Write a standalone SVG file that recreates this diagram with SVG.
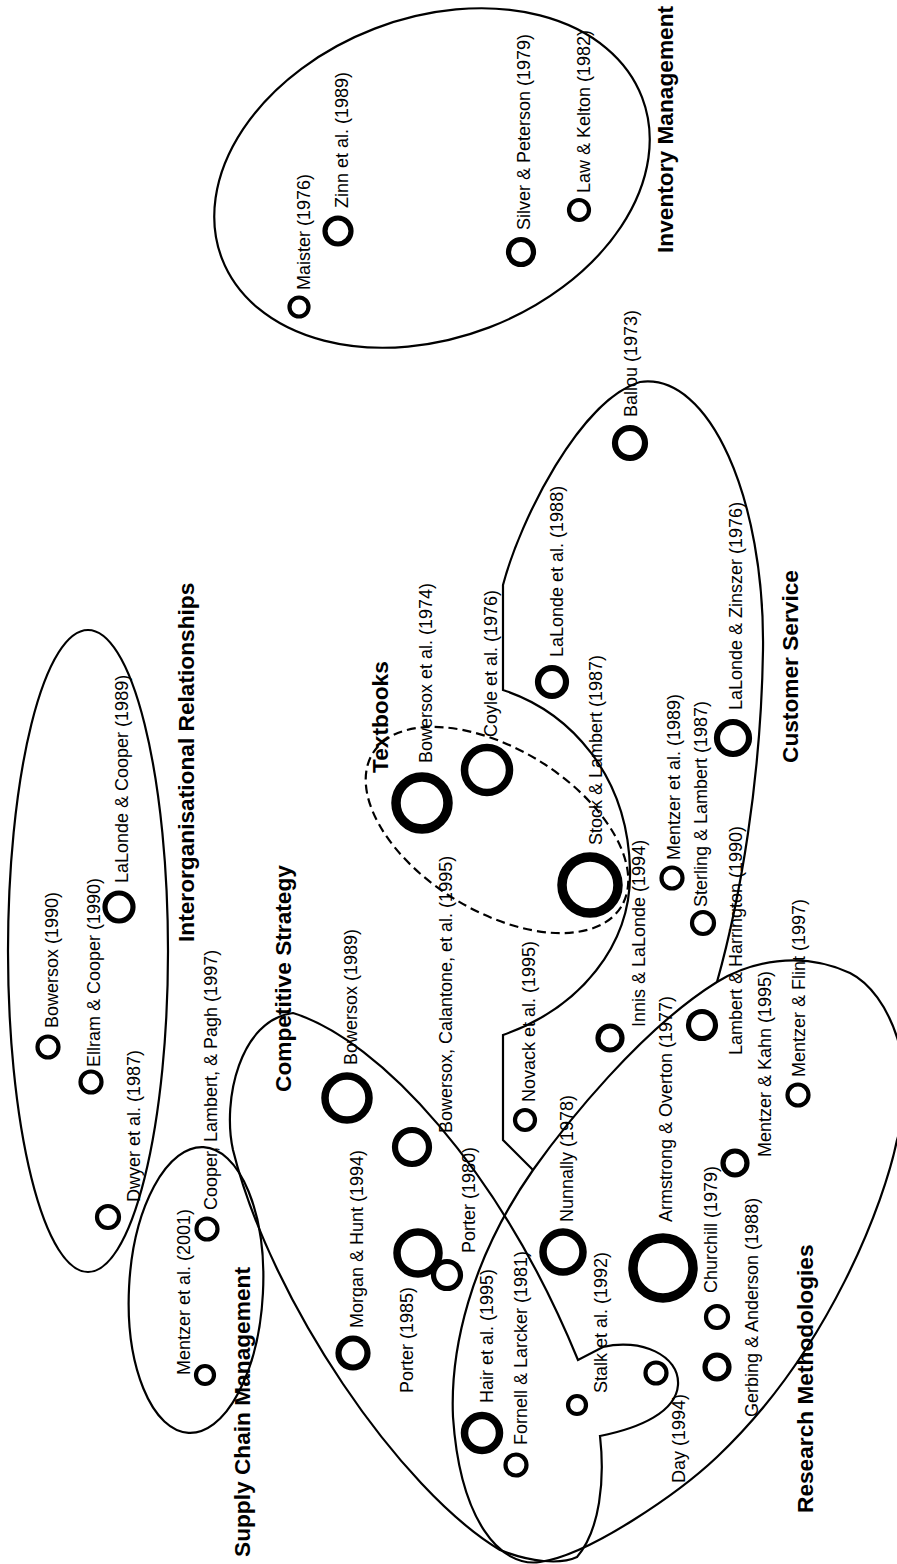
<svg xmlns="http://www.w3.org/2000/svg" width="897" height="1564" viewBox="0 0 897 1564">
<style>
  .outline{fill:none;stroke:#000;stroke-width:2.2}
  .dashed{fill:none;stroke:#000;stroke-width:2.2;stroke-dasharray:9 5}
  circle{fill:none;stroke:#000}
  .w1{stroke-width:4.2}
  .w2{stroke-width:5.2}
  .w3{stroke-width:6.2}
  .w4{stroke-width:7.5}
  .w5{stroke-width:9.5}
  text{font-family:"Liberation Sans",Arial,Helvetica,sans-serif;fill:#000}
  .lbl{font-size:18px}
  .title{font-size:22.7px;font-weight:bold}
</style>
<rect width="897" height="1564" fill="#fff"/>

<!-- cluster outlines -->
<g id="cluster-outlines">
  <ellipse id="inventory-outline" class="outline" cx="432" cy="178" rx="225" ry="160" transform="rotate(-21 432 178)"/>
  <ellipse id="interorg-outline" class="outline" cx="88" cy="951" rx="80" ry="321"/>
  <ellipse id="scm-outline" class="outline" cx="196" cy="1290" rx="67" ry="143" transform="rotate(3 196 1290)"/>
  <ellipse id="textbooks-outline" class="dashed" cx="497" cy="830" rx="146" ry="81" transform="rotate(31.7 497 830)"/>
  <path id="customer-service-outline" class="outline" d="M533,1170 L503,1140 L503,1035 C580,1008 632,945 630,870 C628,775 570,712 503,690 L503,585 C520,520 580,400 640,382 C710,372 765,500 763,650 C761,780 740,900 717,982"/>
  <path id="research-outline" class="outline" d="M717,982 C750,962 800,950 850,973 C890,993 920,1070 897,1140 C885,1200 830,1350 717,1457 C680,1492 590,1555 540,1562 C500,1568 460,1520 453,1417 C450,1350 470,1260 533,1170 C565,1125 640,1030 717,982 Z"/>
  <path id="competitive-outline" class="outline" d="M293,1013 C380,1040 500,1170 578,1360 L603,1347 C640,1338 680,1355 678,1385 C676,1412 640,1428 600,1436 C605,1480 600,1530 577,1557 C560,1565 530,1562 500,1550 C400,1490 270,1300 233,1150 C222,1100 240,1020 293,1013 Z"/>
</g>

<!-- cluster titles -->
<g id="cluster-titles">
  <text class="title" transform="translate(673,253) rotate(-90)">Inventory Management</text>
  <text class="title" transform="translate(798,763) rotate(-90)">Customer Service</text>
  <text class="title" transform="translate(388,773) rotate(-90)">Textbooks</text>
  <text class="title" transform="translate(194,942) rotate(-90)">Interorganisational Relationships</text>
  <text class="title" transform="translate(250,1557) rotate(-90)">Supply Chain Management</text>
  <text class="title" transform="translate(291,1092) rotate(-90)">Competitive Strategy</text>
  <text class="title" transform="translate(813,1513) rotate(-90)">Research Methodologies</text>
</g>

<!-- Inventory Management -->
<g id="maister-1976"><circle class="w1" cx="299" cy="307" r="9.5"/><text class="lbl" transform="translate(310,290) rotate(-90)">Maister (1976)</text></g>
<g id="zinn-1989"><circle class="w2" cx="338" cy="231" r="13"/><text class="lbl" transform="translate(348,208) rotate(-90)">Zinn et al. (1989)</text></g>
<g id="silver-peterson-1979"><circle class="w2" cx="521" cy="252" r="12.5"/><text class="lbl" transform="translate(530,230) rotate(-90)">Silver &amp; Peterson (1979)</text></g>
<g id="law-kelton-1982"><circle class="w1" cx="579" cy="210" r="10"/><text class="lbl" transform="translate(590,193) rotate(-90)">Law &amp; Kelton (1982)</text></g>

<!-- Customer Service -->
<g id="ballou-1973"><circle class="w3" cx="630" cy="443" r="15"/><text class="lbl" transform="translate(637,417) rotate(-90)">Ballou (1973)</text></g>
<g id="lalonde-1988"><circle class="w3" cx="552" cy="682" r="14"/><text class="lbl" transform="translate(563,657) rotate(-90)">LaLonde et al. (1988)</text></g>
<g id="lalonde-zinszer-1976"><circle class="w3" cx="733" cy="738" r="16"/><text class="lbl" transform="translate(742,710) rotate(-90)">LaLonde &amp; Zinszer (1976)</text></g>
<g id="mentzer-1989"><circle class="w1" cx="672" cy="878" r="10.5"/><text class="lbl" transform="translate(680,860) rotate(-90)">Mentzer et al. (1989)</text></g>
<g id="sterling-lambert-1987"><circle class="w1" cx="703" cy="923" r="11"/><text class="lbl" transform="translate(707,907) rotate(-90)">Sterling &amp; Lambert (1987)</text></g>
<g id="lambert-harrington-1990"><circle class="w2" cx="702" cy="1025" r="13.5"/><text class="lbl" transform="translate(742,1055) rotate(-90)">Lambert &amp; Harrington (1990)</text></g>
<g id="innis-lalonde-1994"><circle class="w2" cx="610" cy="1038" r="12"/><text class="lbl" transform="translate(645,1027) rotate(-90)">Innis &amp; LaLonde (1994)</text></g>
<g id="novack-1995"><circle class="w1" cx="525" cy="1120" r="10"/><text class="lbl" transform="translate(535,1102) rotate(-90)">Novack et al. (1995)</text></g>
<g id="stock-lambert-1987"><circle class="w5" cx="590" cy="885" r="28"/><text class="lbl" transform="translate(602,845) rotate(-90)">Stock &amp; Lambert (1987)</text></g>

<!-- Textbooks -->
<g id="bowersox-1974"><circle class="w5" cx="422" cy="803" r="26"/><text class="lbl" transform="translate(432,763) rotate(-90)">Bowersox et al. (1974)</text></g>
<g id="coyle-1976"><circle class="w4" cx="487" cy="770" r="22.5"/><text class="lbl" transform="translate(497,737) rotate(-90)">Coyle et al. (1976)</text></g>

<!-- Interorganisational Relationships -->
<g id="dwyer-1987"><circle class="w1" cx="108" cy="1217" r="11"/><text class="lbl" transform="translate(140,1202) rotate(-90)">Dwyer et al. (1987)</text></g>
<g id="bowersox-1990"><circle class="w1" cx="48" cy="1047" r="10.5"/><text class="lbl" transform="translate(58,1028) rotate(-90)">Bowersox (1990)</text></g>
<g id="ellram-cooper-1990"><circle class="w1" cx="91" cy="1082" r="10.5"/><text class="lbl" transform="translate(100,1067) rotate(-90)">Ellram &amp; Cooper (1990)</text></g>
<g id="lalonde-cooper-1989"><circle class="w2" cx="119" cy="907" r="14"/><text class="lbl" transform="translate(128,883) rotate(-90)">LaLonde &amp; Cooper (1989)</text></g>

<!-- Supply Chain Management -->
<g id="mentzer-2001"><circle class="w1" cx="205" cy="1375" r="9"/><text class="lbl" transform="translate(190,1375) rotate(-90)">Mentzer et al. (2001)</text></g>
<g id="cooper-lambert-pagh-1997"><circle class="w1" cx="207" cy="1229" r="10.5"/><text class="lbl" transform="translate(217,1210) rotate(-90)">Cooper, Lambert, &amp; Pagh (1997)</text></g>

<!-- Competitive Strategy -->
<g id="morgan-hunt-1994"><circle class="w3" cx="353" cy="1353" r="14.5"/><text class="lbl" transform="translate(363,1328) rotate(-90)">Morgan &amp; Hunt (1994)</text></g>
<g id="porter-1985"><circle class="w4" cx="418" cy="1253" r="21"/><text class="lbl" transform="translate(413,1393) rotate(-90)">Porter (1985)</text></g>
<g id="porter-1980"><circle class="w2" cx="447" cy="1275" r="13.5"/><text class="lbl" transform="translate(475,1253) rotate(-90)">Porter (1980)</text></g>
<g id="bowersox-1989"><circle class="w4" cx="347" cy="1098" r="22"/><text class="lbl" transform="translate(357,1065) rotate(-90)">Bowersox (1989)</text></g>
<g id="bowersox-calantone-1995"><circle class="w3" cx="412" cy="1147" r="17"/><text class="lbl" transform="translate(452,1133) rotate(-90)">Bowersox, Calantone, et al. (1995)</text></g>
<g id="hair-1995"><circle class="w4" cx="482" cy="1433" r="17.5"/><text class="lbl" transform="translate(493,1403) rotate(-90)">Hair et al. (1995)</text></g>
<g id="fornell-larcker-1981"><circle class="w1" cx="516" cy="1465" r="10.5"/><text class="lbl" transform="translate(527,1445) rotate(-90)">Fornell &amp; Larcker (1981)</text></g>
<g id="stalk-1992"><circle class="w1" cx="577" cy="1405" r="9"/><text class="lbl" transform="translate(607,1393) rotate(-90)">Stalk et al. (1992)</text></g>
<g id="day-1994"><circle class="w1" cx="656" cy="1373" r="10.5"/><text class="lbl" transform="translate(685,1483) rotate(-90)">Day (1994)</text></g>

<!-- Research Methodologies -->
<g id="nunnally-1978"><circle class="w4" cx="563" cy="1252" r="20"/><text class="lbl" transform="translate(573,1222) rotate(-90)">Nunnally (1978)</text></g>
<g id="armstrong-overton-1977"><circle class="w5" cx="663" cy="1268" r="30"/><text class="lbl" transform="translate(672,1222) rotate(-90)">Armstrong &amp; Overton (1977)</text></g>
<g id="churchill-1979"><circle class="w1" cx="717" cy="1317" r="11"/><text class="lbl" transform="translate(717,1293) rotate(-90)">Churchill (1979)</text></g>
<g id="gerbing-anderson-1988"><circle class="w2" cx="717" cy="1367" r="12"/><text class="lbl" transform="translate(758,1417) rotate(-90)">Gerbing &amp; Anderson (1988)</text></g>
<g id="mentzer-kahn-1995"><circle class="w2" cx="735" cy="1163" r="12"/><text class="lbl" transform="translate(771,1157) rotate(-90)">Mentzer &amp; Kahn (1995)</text></g>
<g id="mentzer-flint-1997"><circle class="w1" cx="798" cy="1095" r="10.5"/><text class="lbl" transform="translate(805,1077) rotate(-90)">Mentzer &amp; Flint (1997)</text></g>
</svg>
